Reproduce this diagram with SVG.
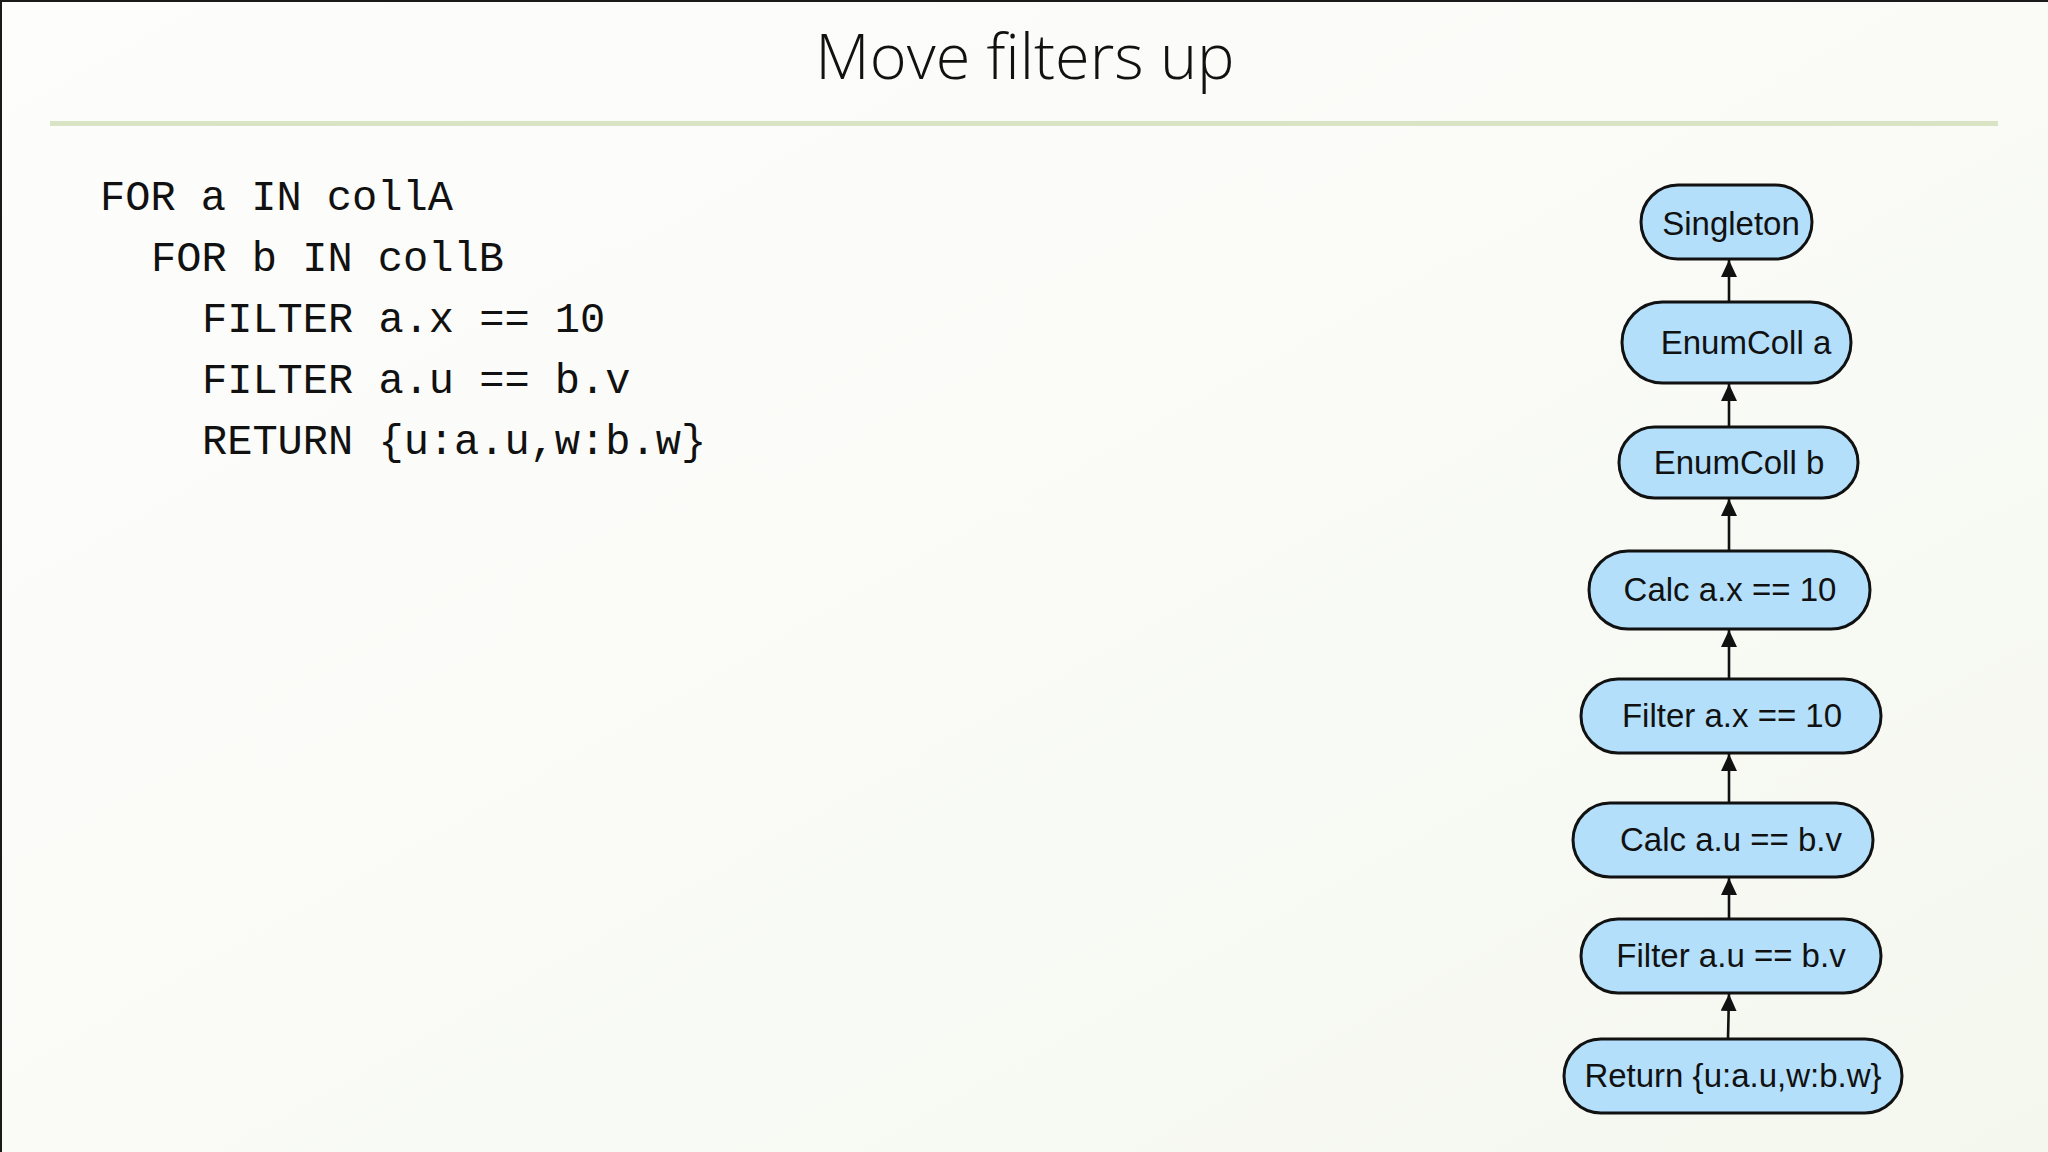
<svg xmlns="http://www.w3.org/2000/svg" width="2048" height="1152" viewBox="0 0 2048 1152">
  <defs>
    <linearGradient id="bg" x1="0" y1="0" x2="1" y2="1">
      <stop offset="0" stop-color="#fdfdfc"/>
      <stop offset="0.5" stop-color="#fafbf7"/>
      <stop offset="1" stop-color="#f4f7ee"/>
    </linearGradient>
    <marker id="arrow" markerUnits="userSpaceOnUse" markerWidth="17" markerHeight="16" refX="17" refY="8" orient="auto">
      <path d="M0,0 L17,8 L0,16 z" fill="#111"/>
    </marker>
    <style>
      .title { font-family: "Open Sans", "Noto Sans", sans-serif; font-weight: 300; font-size: 63px; fill: #111; }
      .code { font-family: "Liberation Mono", "DejaVu Sans Mono", monospace; font-size: 42px; fill: #111; white-space: pre; }
      .node rect { fill: #b3dffb; stroke: #111; stroke-width: 3; }
      .node text { font-family: "Liberation Sans", Arial, sans-serif; font-size: 33px; fill: #111; text-anchor: middle; }
      .edge { stroke: #111; stroke-width: 2.6; fill: none; marker-end: url(#arrow); }
    </style>
  </defs>

  <rect x="0" y="0" width="2048" height="1152" fill="url(#bg)"/>
  <rect x="0" y="0" width="2048" height="2" fill="#1a1a1a"/>
  <rect x="0" y="0" width="2" height="1152" fill="#1a1a1a"/>

  <text class="title" x="1025" y="79" text-anchor="middle">Move filters up</text>
  <rect x="50" y="121" width="1948" height="5" fill="#d9e4c5"/>

  <g id="code">
    <text class="code" x="100" y="210" xml:space="preserve">FOR a IN collA</text>
    <text class="code" x="151" y="271" xml:space="preserve">FOR b IN collB</text>
    <text class="code" x="202" y="332" xml:space="preserve">FILTER a.x == 10</text>
    <text class="code" x="202" y="393" xml:space="preserve">FILTER a.u == b.v</text>
    <text class="code" x="202" y="454" xml:space="preserve">RETURN {u:a.u,w:b.w}</text>
  </g>

  <g id="connectors">
    <line class="edge" x1="1729" y1="302" x2="1729" y2="260"/>
    <line class="edge" x1="1729" y1="427" x2="1729" y2="384"/>
    <line class="edge" x1="1729" y1="551" x2="1729" y2="499"/>
    <line class="edge" x1="1729" y1="679" x2="1729" y2="630"/>
    <line class="edge" x1="1729" y1="803" x2="1729" y2="754"/>
    <line class="edge" x1="1729" y1="919" x2="1729" y2="878"/>
    <line class="edge" x1="1728" y1="1039" x2="1729" y2="994"/>
  </g>

  <g id="node-singleton" class="node">
    <rect x="1641" y="185" width="171" height="74" rx="37"/>
    <text x="1731" y="235">Singleton</text>
  </g>
  <g id="node-enumcoll-a" class="node">
    <rect x="1622" y="302" width="229" height="81" rx="40.5"/>
    <text x="1746" y="354">EnumColl a</text>
  </g>
  <g id="node-enumcoll-b" class="node">
    <rect x="1619" y="427" width="239" height="71" rx="35.5"/>
    <text x="1739" y="474">EnumColl b</text>
  </g>
  <g id="node-calc-ax" class="node">
    <rect x="1589" y="551" width="281" height="78" rx="39"/>
    <text x="1730" y="601">Calc a.x == 10</text>
  </g>
  <g id="node-filter-ax" class="node">
    <rect x="1581" y="679" width="300" height="74" rx="37"/>
    <text x="1732" y="727">Filter a.x == 10</text>
  </g>
  <g id="node-calc-au" class="node">
    <rect x="1573" y="803" width="300" height="74" rx="37"/>
    <text x="1731" y="851">Calc a.u == b.v</text>
  </g>
  <g id="node-filter-au" class="node">
    <rect x="1581" y="919" width="300" height="74" rx="37"/>
    <text x="1731" y="967">Filter a.u == b.v</text>
  </g>
  <g id="node-return" class="node">
    <rect x="1564" y="1039" width="338" height="74" rx="37"/>
    <text x="1733" y="1087">Return {u:a.u,w:b.w}</text>
  </g>
</svg>
